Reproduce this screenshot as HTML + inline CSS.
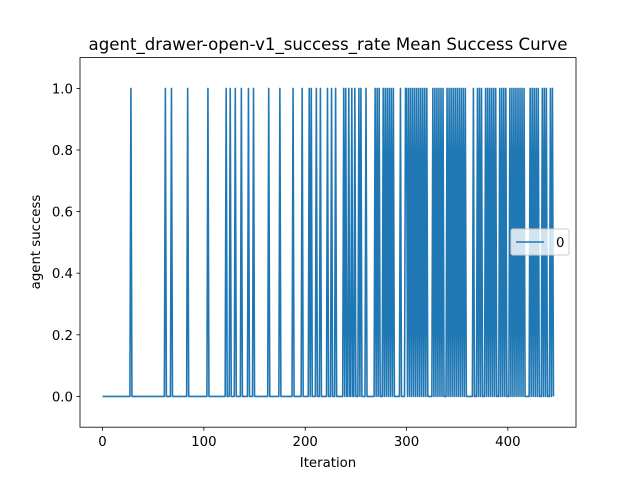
<!DOCTYPE html>
<html><head><meta charset="utf-8"><style>
body{margin:0;background:#fff}
svg text{font-family:"DejaVu Sans","Liberation Sans",sans-serif;fill:#000}
</style></head><body>
<svg id="chart" width="640" height="480" xmlns="http://www.w3.org/2000/svg">
<rect width="640" height="480" fill="#fff"/>
<text x="328" y="50" font-size="16.6" text-anchor="middle">agent_drawer-open-v1_success_rate Mean Success Curve</text>
<g id="plot"></g>
<rect x="80" y="57.6" width="496" height="369.6" fill="none" stroke="#000" stroke-width="0.8"/>
<g id="xt"></g><g id="yt"></g>
<text x="328" y="467" font-size="13.3" text-anchor="middle">Iteration</text>
<text transform="translate(40,242) rotate(-90)" font-size="13.3" text-anchor="middle">agent success</text>
<g>
<rect x="511" y="229" width="58" height="26" rx="2" fill="#fff" fill-opacity="0.8" stroke="#ccc"/>
<line x1="516" y1="242" x2="544" y2="242" stroke="#1f77b4" stroke-width="1.5"/>
<text x="556" y="247" font-size="13.3">0</text>
</g>
</svg>
<script>
const nPoints = 446;
const successIters = [28,62,68,84,104,122,126,131,137,144,149,164,175,188,197,204,206,211,215,222,226,230,238,240,243,246,249,253,255,260,269,271,273,277,279,281,283,285,287,294,299,
300,302,304,306,308,310,312,314,316,318,320,326,328,330,332,334,336,340,342,344,346,348,350,352,354,356,358,366,370,372,374,378,380,382,384,386,388,392,394,396,398,402,404,406,408,410,412,414,416,422,424,426,428,430,434,436,438,442,444];
const xTicks = [0,100,200,300,400];
const yTicks = [0.0,0.2,0.4,0.6,0.8,1.0];
const values = new Array(nPoints).fill(0);
successIters.forEach(i => values[i] = 1);
const xMin=-22.25, xMax=467.25, yMin=-0.1, yMax=1.1;
const X = v => 80 + (v - xMin) / (xMax - xMin) * 496;
const Y = v => 427.2 - (v - yMin) / (yMax - yMin) * 369.6;
const NS = "http://www.w3.org/2000/svg";
const plot = document.getElementById('plot');
const pl = document.createElementNS(NS,'polyline');
pl.setAttribute('points', values.map((v,i)=>X(i).toFixed(2)+','+Y(v).toFixed(2)).join(' '));
pl.setAttribute('fill','none');pl.setAttribute('stroke','#1f77b4');pl.setAttribute('stroke-width','1.6');
pl.setAttribute('stroke-linejoin','round');


plot.appendChild(pl);
const xt=document.getElementById('xt');
xTicks.forEach(t=>{
  const l=document.createElementNS(NS,'line');
  l.setAttribute('x1',X(t));l.setAttribute('x2',X(t));l.setAttribute('y1',427.2);l.setAttribute('y2',430.7);l.setAttribute('stroke','#000');l.setAttribute('stroke-width','0.8');
  
  
  xt.appendChild(l);
  const s=document.createElementNS(NS,'text');
  s.setAttribute('x',X(t));s.setAttribute('y',446);s.setAttribute('font-size','13.3');s.setAttribute('text-anchor','middle');
  s.textContent=t;
  
  
  xt.appendChild(s);
});
const yt=document.getElementById('yt');
yTicks.forEach(t=>{
  const l=document.createElementNS(NS,'line');
  l.setAttribute('x1',76.5);l.setAttribute('x2',80);l.setAttribute('y1',Y(t));l.setAttribute('y2',Y(t));l.setAttribute('stroke','#000');l.setAttribute('stroke-width','0.8');
  
  
  yt.appendChild(l);
  const s=document.createElementNS(NS,'text');
  s.setAttribute('x',73);s.setAttribute('y',Y(t)+5);s.setAttribute('font-size','13.3');s.setAttribute('text-anchor','end');
  s.textContent=t.toFixed(1);
  
  
  yt.appendChild(s);
});
</script>
</body></html>
